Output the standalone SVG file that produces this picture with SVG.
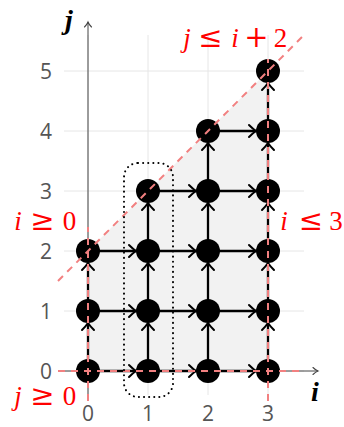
<svg xmlns="http://www.w3.org/2000/svg" width="344" height="427" viewBox="0 0 344 427">
<style>
.grid{stroke:#e6e6e6;stroke-width:1}
.axis{stroke:#444;stroke-width:1;fill:none}
.edge{stroke:#000;stroke-width:2.3;fill:none;marker-end:url(#ah)}
.node{fill:#000}
.con{stroke:#f28080;stroke-width:2;stroke-dasharray:7,6;fill:none}
.tick{font-family:"Open Sans","Noto Sans",sans-serif;font-size:21px;fill:#555}
.math text{font-family:"Liberation Serif","DejaVu Serif",serif;font-size:27px;fill:#ff0000;text-anchor:middle}
.math .var{font-style:italic}
.math .rel{font-family:"DejaVu Serif","Liberation Serif",serif;font-size:29px}
.axl{font-family:"Liberation Serif","DejaVu Serif",serif;font-size:28px;font-style:italic;font-weight:bold;fill:#000}
</style>
<defs>
<marker id="ah" markerWidth="12" markerHeight="16" refX="9" refY="8" orient="auto" markerUnits="userSpaceOnUse">
<path d="M2,2 Q6,6 9,8 Q6,10 2,14" fill="none" stroke="#000" stroke-width="2" stroke-linecap="round" stroke-linejoin="round"/>
</marker>
<marker id="ax" markerWidth="10" markerHeight="10" refX="7" refY="5" orient="auto" markerUnits="userSpaceOnUse">
<path d="M2,1.5 Q4.5,4 7,5 Q4.5,6 2,8.5" fill="none" stroke="#444" stroke-width="1.1" stroke-linecap="round"/>
</marker>
</defs>
<g id="background">
<polygon points="88,371 268,371 268,71 88,251" fill="#f2f2f2"/>
<g class="grid">
<line x1="64" y1="371" x2="304" y2="371"/>
<line x1="64" y1="311" x2="304" y2="311"/>
<line x1="64" y1="251" x2="304" y2="251"/>
<line x1="64" y1="191" x2="304" y2="191"/>
<line x1="64" y1="131" x2="304" y2="131"/>
<line x1="64" y1="71" x2="304" y2="71"/>
<line x1="88" y1="395" x2="88" y2="35"/>
<line x1="148" y1="395" x2="148" y2="35"/>
<line x1="208" y1="395" x2="208" y2="35"/>
<line x1="268" y1="395" x2="268" y2="35"/>
</g>
</g>
<g id="axes">
<line class="axis" x1="60" y1="371" x2="318" y2="371" marker-end="url(#ax)"/>
<line class="axis" x1="88" y1="398" x2="88" y2="22" marker-end="url(#ax)"/>
<text class="axl" x="65" y="29">j</text>
<text class="axl" x="311" y="401">i</text>
</g>
<g id="ticks" class="tick">
<text x="52" y="379" text-anchor="end">0</text>
<text x="52" y="319" text-anchor="end">1</text>
<text x="52" y="259" text-anchor="end">2</text>
<text x="52" y="199" text-anchor="end">3</text>
<text x="52" y="139" text-anchor="end">4</text>
<text x="52" y="79" text-anchor="end">5</text>
<text x="88" y="421" text-anchor="middle">0</text>
<text x="148" y="421" text-anchor="middle">1</text>
<text x="208" y="421" text-anchor="middle">2</text>
<text x="268" y="421" text-anchor="middle">3</text>
</g>
<g id="connectors">
<line class="edge" x1="88" y1="371" x2="136" y2="371"/>
<line class="edge" x1="88" y1="311" x2="136" y2="311"/>
<line class="edge" x1="88" y1="251" x2="136" y2="251"/>
<line class="edge" x1="148" y1="371" x2="196" y2="371"/>
<line class="edge" x1="148" y1="311" x2="196" y2="311"/>
<line class="edge" x1="148" y1="251" x2="196" y2="251"/>
<line class="edge" x1="148" y1="191" x2="196" y2="191"/>
<line class="edge" x1="208" y1="371" x2="256" y2="371"/>
<line class="edge" x1="208" y1="311" x2="256" y2="311"/>
<line class="edge" x1="208" y1="251" x2="256" y2="251"/>
<line class="edge" x1="208" y1="191" x2="256" y2="191"/>
<line class="edge" x1="208" y1="131" x2="256" y2="131"/>
<line class="edge" x1="88" y1="371" x2="88" y2="323"/>
<line class="edge" x1="88" y1="311" x2="88" y2="263"/>
<line class="edge" x1="148" y1="371" x2="148" y2="323"/>
<line class="edge" x1="148" y1="311" x2="148" y2="263"/>
<line class="edge" x1="148" y1="251" x2="148" y2="203"/>
<line class="edge" x1="208" y1="371" x2="208" y2="323"/>
<line class="edge" x1="208" y1="311" x2="208" y2="263"/>
<line class="edge" x1="208" y1="251" x2="208" y2="203"/>
<line class="edge" x1="208" y1="191" x2="208" y2="143"/>
<line class="edge" x1="268" y1="371" x2="268" y2="323"/>
<line class="edge" x1="268" y1="311" x2="268" y2="263"/>
<line class="edge" x1="268" y1="251" x2="268" y2="203"/>
<line class="edge" x1="268" y1="191" x2="268" y2="143"/>
<line class="edge" x1="268" y1="131" x2="268" y2="83"/>
</g>
<g id="nodes">
<circle id="n00" class="node" cx="88" cy="371" r="12"/>
<circle id="n01" class="node" cx="88" cy="311" r="12"/>
<circle id="n02" class="node" cx="88" cy="251" r="12"/>
<circle id="n10" class="node" cx="148" cy="371" r="12"/>
<circle id="n11" class="node" cx="148" cy="311" r="12"/>
<circle id="n12" class="node" cx="148" cy="251" r="12"/>
<circle id="n13" class="node" cx="148" cy="191" r="12"/>
<circle id="n20" class="node" cx="208" cy="371" r="12"/>
<circle id="n21" class="node" cx="208" cy="311" r="12"/>
<circle id="n22" class="node" cx="208" cy="251" r="12"/>
<circle id="n23" class="node" cx="208" cy="191" r="12"/>
<circle id="n24" class="node" cx="208" cy="131" r="12"/>
<circle id="n30" class="node" cx="268" cy="371" r="12"/>
<circle id="n31" class="node" cx="268" cy="311" r="12"/>
<circle id="n32" class="node" cx="268" cy="251" r="12"/>
<circle id="n33" class="node" cx="268" cy="191" r="12"/>
<circle id="n34" class="node" cx="268" cy="131" r="12"/>
<circle id="n35" class="node" cx="268" cy="71" r="12"/>
</g>
<g id="constraints">
<line class="con" x1="58" y1="281" x2="302" y2="37"/>
<line class="con" x1="88" y1="401" x2="88" y2="227"/>
<line class="con" x1="268" y1="401" x2="268" y2="59"/>
<line class="con" x1="58" y1="371" x2="302" y2="371"/>
</g>
<g id="selection">
<rect x="124" y="163" width="49" height="234" rx="14" fill="none" stroke="#000" stroke-width="2" stroke-dasharray="0.1,5" stroke-linecap="round"/>
</g>
<g id="labels" class="math">
<text class="var" x="187" y="47">j</text>
<text class="rel" x="210.5" y="47">≤</text>
<text class="var" x="235" y="47">i</text>
<text class="rel" x="256.5" y="47">+</text>
<text x="280.5" y="47">2</text>
<text class="var" x="18" y="230">i</text>
<text class="rel" x="42.5" y="230">≥</text>
<text x="69.5" y="230">0</text>
<text class="var" x="284" y="230">i</text>
<text class="rel" x="311" y="230">≤</text>
<text x="336" y="230">3</text>
<text class="var" x="18" y="405">j</text>
<text class="rel" x="42.5" y="405">≥</text>
<text x="69.5" y="405">0</text>
</g>
</svg>
